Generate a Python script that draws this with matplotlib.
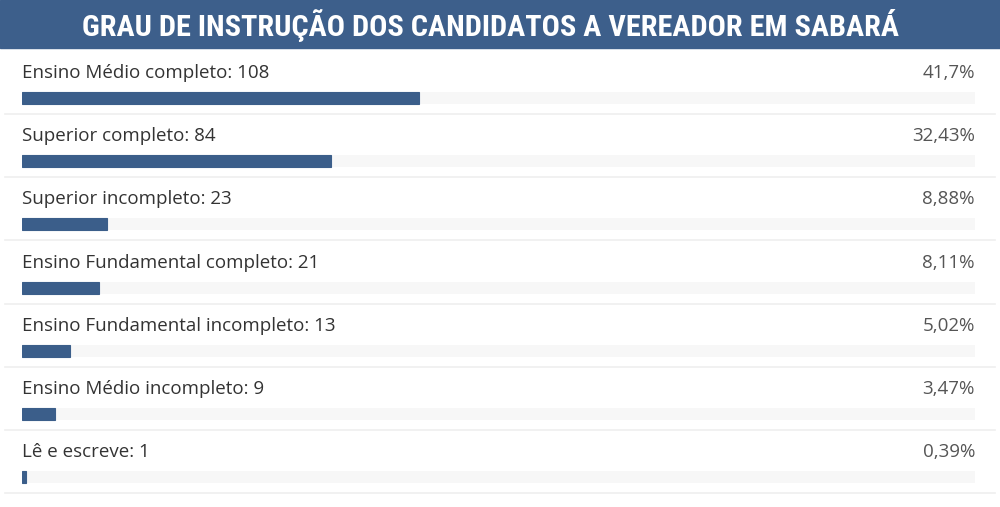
import matplotlib.pyplot as plt
from matplotlib.patches import Rectangle
from matplotlib import font_manager

# dados
categorias = ['Ensino Médio completo', 'Superior completo', 'Superior incompleto',
              'Ensino Fundamental completo', 'Ensino Fundamental incompleto',
              'Ensino Médio incompleto', 'Lê e escreve']
quantidades = [108, 84, 23, 21, 13, 9, 1]
percentuais = [41.7, 32.43, 8.88, 8.11, 5.02, 3.47, 0.39]

titulo = 'GRAU DE INSTRUÇÃO DOS CANDIDATOS A VEREADOR EM SABARÁ'
azul = '#3b5e8a'

W, H = 1000, 507
fig = plt.figure(figsize=(W / 100, H / 100), dpi=100)
fig.patch.set_facecolor('white')

# fonte estreita para o titulo, se houver
nomes = {f.name for f in font_manager.fontManager.ttflist}
fam_tit = 'DejaVu Sans'
for nome in ['Roboto Condensed', 'Liberation Sans Narrow', 'Open Sans Condensed',
             'Roboto', 'Liberation Sans']:
    if nome in nomes:
        fam_tit = nome
        break

# faixa do titulo
banner_h = 48
fig.patches.append(Rectangle((0, 1 - banner_h / H), 1, banner_h / H,
                             transform=fig.transFigure, color='#3d5f8b', zorder=0))
t = fig.text(0.491, 1 - 25 / H, titulo, color='white', ha='center', va='center',
             fontsize=24, fontweight='bold', family=fam_tit)
# ajusta o tamanho para ocupar ~817 px como no original
r = fig.canvas.get_renderer()
w = t.get_window_extent(renderer=r).width
t.set_fontsize(min(30, 24 * 817 / w))

# eixo das barras: x em %, y = indice da linha
left, right = 22, 975
ax = fig.add_axes([left / W, 0, (right - left) / W, (H - banner_h) / H])
row = 63.2
top_units = -(98 - banner_h) / row
bottom_units = (H - 98) / row
ax.set_xlim(0, 100)
ax.set_ylim(bottom_units, top_units)
ax.axis('off')

ys = list(range(len(categorias)))
bh = 12 / row
ax.barh(ys, [100] * len(ys), height=bh, color='#f7f7f7', zorder=1)
ax.barh(ys, percentuais, height=bh, color=azul, edgecolor=azul, linewidth=0.8,
        zorder=2)

fonte = ['Open Sans', 'DejaVu Sans']
x0 = -17 / (right - left)
x1 = (995 - left) / (right - left)
for y, cat, q, p in zip(ys, categorias, quantidades, percentuais):
    ax.text(0, y - 25 / row, f'{cat}: {q}', ha='left', va='center',
            fontsize=13.5, color='#333333', family=fonte)
    ax.text(100, y - 25 / row, f'{p:g}'.replace('.', ',') + '%', ha='right',
            va='center', fontsize=13.5, color='#555555', family=fonte)
    ax.axhline(y + 16 / row, xmin=x0, xmax=x1, color='#efefef', linewidth=1.2,
               clip_on=False, zorder=0)

fig.savefig('out.png', dpi=100, facecolor='white')
